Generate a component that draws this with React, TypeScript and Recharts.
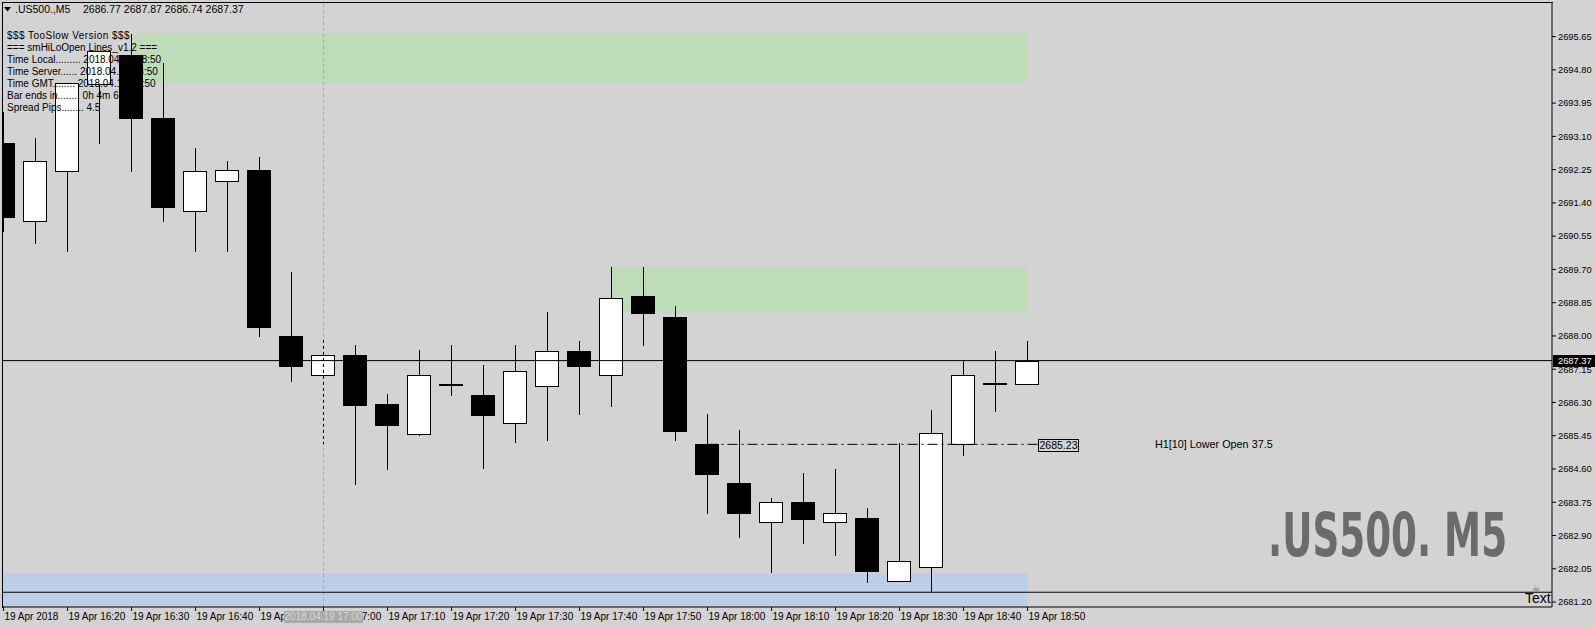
import React from "react";
import {
  Bar,
  ComposedChart,
  ReferenceArea,
  ReferenceLine,
  XAxis,
  YAxis,
} from "recharts";

// M5 bars, 19 Apr 2018
const times = [
  "16:10", "16:15", "16:20", "16:25", "16:30", "16:35", "16:40", "16:45",
  "16:50", "16:55", "17:00", "17:05", "17:10", "17:15", "17:20", "17:25",
  "17:30", "17:35", "17:40", "17:45", "17:50", "17:55", "18:00", "18:05",
  "18:10", "18:15", "18:20", "18:25", "18:30", "18:35", "18:40", "18:45",
  "18:50",
];
const opens = [
  2692.93, 2690.93, 2692.21, 2694.44, 2695.18, 2693.58, 2691.19, 2691.95,
  2692.24, 2688.0, 2686.99, 2687.51, 2686.26, 2685.49, 2686.75, 2686.49,
  2685.77, 2686.71, 2687.62, 2686.99, 2689.02, 2688.48, 2685.23, 2684.24,
  2683.24, 2683.75, 2683.24, 2683.35, 2681.73, 2682.09, 2685.23, 2686.76,
  2686.77,
];
const highs = [
  2693.72, 2693.06, 2694.47, 2695.29, 2695.72, 2694.98, 2692.8, 2692.47,
  2692.57, 2689.63, 2687.52, 2687.77, 2686.52, 2687.64, 2687.77, 2687.26,
  2687.77, 2688.6, 2687.87, 2689.77, 2689.77, 2688.77, 2686.01, 2685.6,
  2683.86, 2684.51, 2684.6, 2683.6, 2685.27, 2686.11, 2687.35, 2687.62,
  2687.87,
];
const lows = [
  2690.66, 2690.36, 2690.15, 2692.91, 2692.2, 2690.92, 2690.15, 2690.15,
  2687.98, 2686.83, 2686.98, 2684.2, 2684.58, 2685.45, 2686.47, 2684.61,
  2685.27, 2685.32, 2685.99, 2686.19, 2687.74, 2685.32, 2683.46, 2682.84,
  2681.95, 2682.69, 2682.38, 2681.69, 2681.72, 2681.46, 2684.94, 2686.06,
  2686.74,
];
const closes = [
  2691.05, 2692.46, 2694.46, 2695.29, 2693.56, 2691.3, 2692.22, 2692.24,
  2688.24, 2687.24, 2687.51, 2686.24, 2685.73, 2686.99, 2686.75, 2685.99,
  2687.1, 2687.61, 2687.24, 2688.96, 2688.59, 2685.58, 2684.48, 2683.48,
  2683.75, 2683.33, 2683.47, 2682.0, 2682.24, 2685.51, 2686.99, 2686.76,
  2687.37,
];

const priceTicks = [
  2681.2, 2682.05, 2682.9, 2683.75, 2684.6, 2685.45, 2686.3, 2687.15,
  2688.0, 2688.85, 2689.7, 2690.55, 2691.4, 2692.25, 2693.1, 2693.95,
  2694.8, 2695.65,
];
const timeTicks = [0, 2, 4, 6, 8, 10, 12, 14, 16, 18, 20, 22, 24, 26, 28, 30, 32];

const lastPrice = 2687.37;
const h1Open = 2685.23;
const lowLine = 2681.45;
const upperZone = [2694.46, 2695.72];
const midZone = [2688.6, 2689.77];
const lowerZone = [2680.5, 2681.94];

const infoLines = [
  "$$$ TooSlow Version $$$",
  "=== smHiLoOpen Lines_v1.2 ===",
  "Time Local......... 2018.04.19 18:50",
  "Time Server...... 2018.04.19 18:50",
  "Time GMT........ 2018.04.19 15:50",
  "Bar ends in........ 0h 4m 6s",
  "Spread Pips........ 4.5",
];

const data = times.map((t, i) => ({
  i,
  time: t,
  open: opens[i],
  high: highs[i],
  low: lows[i],
  close: closes[i],
  range: [lows[i], highs[i]],
}));

const font = "'Liberation Sans', Arial, sans-serif";

const Candle = (props: any) => {
  const { x, y, width, height, payload } = props;
  if (x == null || y == null) return null;
  const { open, close, high, low } = payload;
  const py = (p: number) => y + ((high - p) / (high - low)) * height;
  const cx = Math.floor(x + width / 2) + 0.5;
  const top = Math.round(py(Math.max(open, close))) + 0.5;
  const bot = Math.round(py(Math.min(open, close))) + 0.5;
  const bull = close > open;
  return (
    <g>
      <line x1={cx} x2={cx} y1={Math.round(py(high))} y2={Math.round(py(low))} stroke="#000" />
      {bot - top < 1.5 ? (
        <rect x={cx - 12.5} y={top - 1.5} width={24} height={2} fill="#000" />
      ) : (
        <rect
          x={cx - 12}
          y={top}
          width={23}
          height={bot - top}
          fill={bull ? "#fff" : "#000"}
          stroke="#000"
          strokeWidth={1}
        />
      )}
    </g>
  );
};

const TimeTick = ({ x, y, payload }: any) => {
  const i = payload.value;
  const label = i === 0 ? "19 Apr 2018" : `19 Apr ${times[i]}`;
  return (
    <text x={x + 1} y={y} dy="0.71em" fontSize={10} fontFamily={font} fill="#000" textAnchor="start">
      {label}
    </text>
  );
};

const abs = (left: number, top: number, extra: React.CSSProperties = {}): React.CSSProperties => ({
  position: "absolute",
  left,
  top,
  fontFamily: font,
  whiteSpace: "pre",
  color: "#000",
  ...extra,
});

export default function App() {
  return (
    <div style={{ position: "absolute", left: 0, top: 0, width: 1595, height: 628, background: "#d3d3d3", overflow: "hidden" }}>
      <div style={{ position: "absolute", left: 2, top: 2, width: 1550, height: 605, borderLeft: "1px solid #000", borderTop: "1px solid #000" }} />
      <div style={{ position: "absolute", left: 0, top: 0 }}>
        <ComposedChart width={1595} height={628} data={data} margin={{ top: 2, right: 0, left: 3, bottom: 0 }}>
          <XAxis
            dataKey="i"
            type="number"
            domain={[-0.015625, 48.390625]}
            allowDataOverflow
            ticks={timeTicks}
            interval={0}
            height={21}
            tickSize={4}
            tickMargin={2}
            stroke="#000"
            tick={<TimeTick />}
          />
          <YAxis
            orientation="right"
            type="number"
            domain={[2681.073, 2696.534]}
            allowDataOverflow
            ticks={priceTicks}
            interval={0}
            width={43}
            tickSize={4}
            tickMargin={2}
            stroke="#000"
            tickFormatter={(v: number) => v.toFixed(2)}
            tick={{ fill: "#000", fontSize: 9.3, fontFamily: font }}
          />
          <ReferenceArea x1={4} x2={32} y1={upperZone[0]} y2={upperZone[1]} fill="#bedcb7" fillOpacity={1} stroke="none" ifOverflow="hidden" />
          <ReferenceArea x1={19} x2={32} y1={midZone[0]} y2={midZone[1]} fill="#bedcb7" fillOpacity={1} stroke="none" ifOverflow="hidden" />
          <ReferenceArea x1={-1} x2={32} y1={lowerZone[0]} y2={lowerZone[1]} fill="#bdcfe8" fillOpacity={1} stroke="none" ifOverflow="hidden" />
          <ReferenceLine x={10} stroke="#a6a6a6" strokeDasharray="3 3" ifOverflow="hidden" />
          <Bar dataKey="range" barSize={24} shape={<Candle />} isAnimationActive={false} />
          <ReferenceLine y={lastPrice} stroke="#000" ifOverflow="hidden" />
          <ReferenceLine y={lowLine} stroke="#000" ifOverflow="hidden" />
          <ReferenceLine
            segment={[{ x: 10, y: 2687.9 }, { x: 10, y: h1Open }]}
            stroke="#000"
            strokeDasharray="3 3"
            ifOverflow="hidden"
          />
          <ReferenceLine
            segment={[{ x: 22, y: h1Open }, { x: 32.33, y: h1Open }]}
            stroke="#000"
            strokeDasharray="10 4 2 4"
            ifOverflow="hidden"
          />
        </ComposedChart>
      </div>

      {/* header */}
      <svg style={{ position: "absolute", left: 4, top: 7 }} width={8} height={5}>
        <polygon points="0,0 7,0 3.5,4.5" fill="#000" />
      </svg>
      <div style={abs(15, 3, { fontSize: 10.5, lineHeight: "13px" })}>.US500.,M5</div>
      <div style={abs(83, 3, { fontSize: 10.5, lineHeight: "13px" })}>{`${opens[32].toFixed(2)} ${highs[32].toFixed(2)} ${lows[32].toFixed(2)} ${closes[32].toFixed(2)}`}</div>

      {/* indicator info block */}
      <div style={abs(7, 30, { fontSize: 10, lineHeight: "12px" })}>
        {infoLines.map((l, k) => (
          <div key={k} style={k === 0 ? { letterSpacing: 0.45 } : undefined}>{l}</div>
        ))}
      </div>

      {/* H1 open */}
      <div style={abs(1038, 439, { fontSize: 10.5, lineHeight: "11px", width: 39, height: 11, border: "1px solid #000", textAlign: "center" })}>
        {h1Open.toFixed(2)}
      </div>
      <div style={abs(1155, 438, { fontSize: 10.8, lineHeight: "13px" })}>H1[10] Lower Open 37.5</div>

      {/* watermark */}
      <div
        style={abs(1268, 505, {
          fontSize: 60,
          lineHeight: "60px",
          fontWeight: 700,
          fontFamily: "'Liberation Sans Narrow', 'DejaVu Sans Condensed', sans-serif",
          color: "#6b6b6b",
          transform: "scaleX(0.69)",
          transformOrigin: "left top",
        })}
      >
        .US500. M5
      </div>

      {/* current price on axis */}
      <div style={abs(1553, 355, { width: 42, height: 12, background: "#000", color: "#fff", fontSize: 9.3, lineHeight: "12px", paddingLeft: 5, boxSizing: "border-box" })}>
        {lastPrice.toFixed(2)}
      </div>

      {/* bottom-right text object */}
      <div style={abs(1532, 584, { fontSize: 9, lineHeight: "10px", color: "#777" })}>☠</div>
      <div style={abs(1525, 591, { fontSize: 14, lineHeight: "14px" })}>Text</div>

      {/* crosshair time label */}
      <div style={abs(284, 611, { width: 79, height: 12, background: "#a9a9a9", color: "#d6d6d6", fontSize: 10, lineHeight: "12px", textAlign: "center" })}>
        2018.04.19 17:00
      </div>
    </div>
  );
}
